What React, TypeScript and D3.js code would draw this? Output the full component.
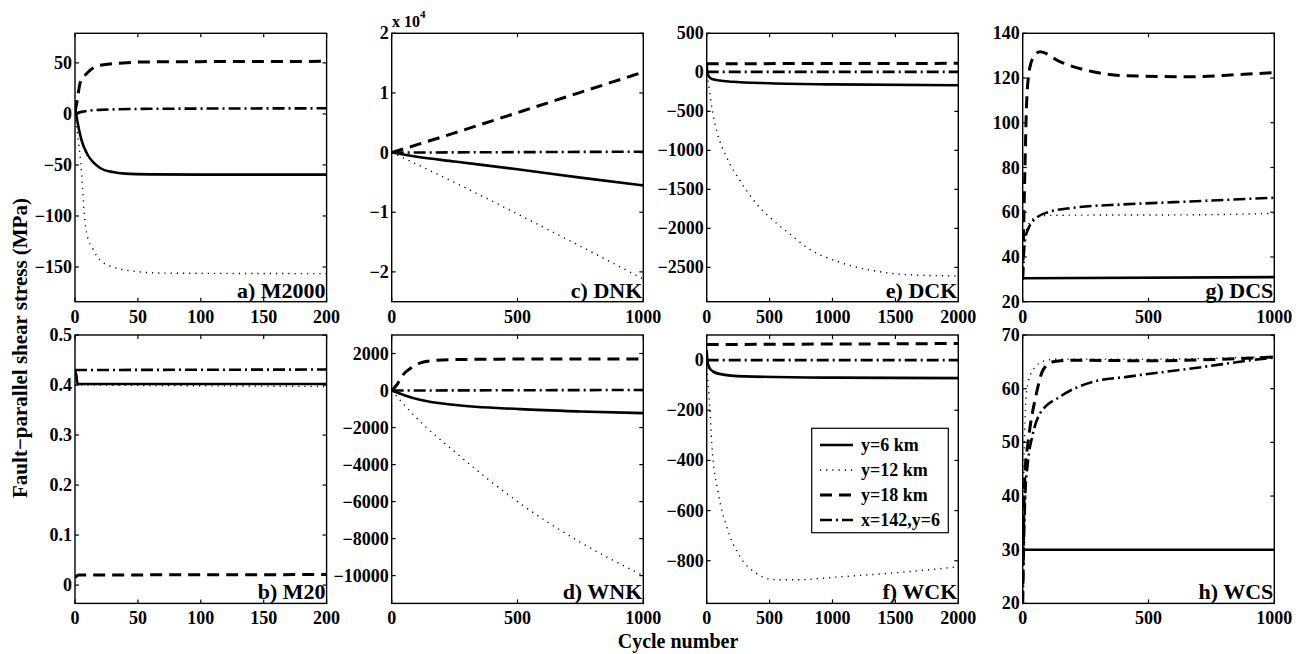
import React from "react";
import * as d3 from "d3";

type Pt = [number, number];

// ---- data (x = cycle number, y = stress) ----
const aSolid: Pt[] = [[0,8],[2,-8],[5,-25],[10,-40],[15,-48],[20,-53],[30,-57],[40,-58.5],[60,-59.2],[100,-59.5],[200,-59.5]];
const aDotted: Pt[] = [[0,0],[1,-10],[2.6,-26],[5.3,-59],[6.6,-85],[9.3,-117],[14.5,-133],[19.8,-143],[30,-150],[46,-154],[70,-156],[200,-156.5]];
const aDashed: Pt[] = [[0,2],[2,15],[4,30],[9.3,39.6],[20,47.7],[38,50],[60,51],[200,51.5]];
const aDashDot: Pt[] = [[0,0],[5,2],[20,4],[60,5],[200,5.5]];

const bSolid: Pt[] = [[0,0.43],[1,0.42],[2,0.402],[200,0.402]];
const bDotted: Pt[] = [[0,0.4],[200,0.397]];
const bDashed: Pt[] = [[0,0.015],[3,0.02],[200,0.021]];
const bDashDot: Pt[] = [[0,0.43],[200,0.431]];

const cSolid: Pt[] = [[0,0],[100,-700],[250,-1500],[500,-2800],[750,-4200],[1000,-5500]];
const cDotted: Pt[] = [[0,0],[250,-5000],[500,-10300],[750,-15700],[1000,-21200]];
const cDashed: Pt[] = [[0,0],[250,3300],[500,6700],[750,10100],[1000,13500]];
const cDashDot: Pt[] = [[0,0],[1000,150]];

const dSolid: Pt[] = [[0,0],[50,-250],[112,-500],[245,-770],[510,-1005],[750,-1130],[1000,-1220]];
const dDotted: Pt[] = [[0,0],[100,-1500],[250,-3300],[500,-6000],[750,-8200],[1000,-10000]];
const dDashed: Pt[] = [[0,0],[20,300],[45,850],[80,1250],[112,1480],[150,1600],[250,1670],[500,1700],[1000,1710]];
const dDashDot: Pt[] = [[0,0],[1000,30]];

const eSolid: Pt[] = [[0,120],[3,30],[8,-20],[20,-60],[50,-90],[100,-105],[200,-120],[500,-140],[1000,-155],[2000,-165]];
const eDotted: Pt[] = [[0,-30],[15,-150],[30,-330],[45,-490],[80,-750],[159,-1090],[265,-1388],[397,-1688],[530,-1900],[662,-2072],[795,-2244],[1060,-2436],[1325,-2542],[1590,-2594],[2000,-2610]];
const eDashed: Pt[] = [[0,110],[2000,115]];
const eDashDot: Pt[] = [[0,5],[2000,5]];

const fSolid: Pt[] = [[0,40],[5,0],[20,-30],[50,-45],[100,-55],[300,-65],[1000,-70],[2000,-72]];
const fDotted: Pt[] = [[0,-30],[26,-200],[40,-332],[92,-531],[159,-664],[265,-784],[397,-851],[530,-875],[700,-876],[1060,-864],[1590,-844],[2000,-824]];
const fDashed: Pt[] = [[0,62],[2000,66]];
const fDashDot: Pt[] = [[0,0],[2000,0]];

const gSolid: Pt[] = [[0,30.5],[1000,31]];
const gDashed: Pt[] = [[0,30],[9,80],[16,110],[29,125],[50,130.5],[69,131.8],[148,127.3],[280,122.8],[413,121],[679,120.6],[850,121.5],[995,122.4]];
const gDashDot: Pt[] = [[0,30],[5,42],[10,48],[20,52],[40,56],[60,58],[100,60],[200,62],[400,63.5],[600,64.5],[800,65.5],[1000,66.5]];
const gDotted: Pt[] = [[0,30],[5,45],[15,52],[40,57],[80,58.5],[200,58.7],[600,58.8],[800,59],[1000,59.5]];

const hSolid: Pt[] = [[0,30],[1000,30]];
const hDotted: Pt[] = [[0,20],[3,40],[8,52],[16,59.7],[41,63.5],[95,65.3],[150,65.5],[500,65.5],[1000,66]];
const hDashed: Pt[] = [[0,20],[5,38],[10,45],[21,49.9],[55,59.2],[81,63.5],[121,65],[200,65.3],[500,65.2],[1000,65.9]];
const hDashDot: Pt[] = [[0,20],[10,40],[20,46],[40,51.5],[69,55.4],[148,58.5],[281,61.3],[413,62.2],[678,63.8],[943,65.5],[1000,65.8]];

// ---- tick labels ----
const xTicks200 = [0, 50, 100, 150, 200];
const xTicks1000 = [0, 500, 1000];
const xTicks2000 = [0, 500, 1000, 1500, 2000];
const yTicksA = [-150, -100, -50, 0, 50];
const yTicksB = [0, 0.1, 0.2, 0.3, 0.4, 0.5];
const yTicksC = [-20000, -10000, 0, 10000, 20000];
const yTicksD = [-10000, -8000, -6000, -4000, -2000, 0, 2000];
const yTicksE = [-2500, -2000, -1500, -1000, -500, 0, 500];
const yTicksF = [-800, -600, -400, -200, 0];
const yTicksG = [20, 40, 60, 80, 100, 120, 140];
const yTicksH = [20, 30, 40, 50, 60, 70];

const legendLabels = ["y=6 km", "y=12 km", "y=18 km", "x=142,y=6"];

const styles = [
  { w: 2.6, dash: "" },
  { w: 1.4, dash: "1.2,5" },
  { w: 3, dash: "12,7" },
  { w: 2.6, dash: "12,4,2,4" },
];

const FONT = "'Liberation Serif', 'Times New Roman', serif";
const TICK_FS = 18;

const fmt = (v: number) => (v < 0 ? "\u2212" : "") + String(Math.abs(v));

interface Panel {
  label: string;
  col: number;
  row: number;
  xDom: [number, number];
  yDom: [number, number];
  xTicks: number[];
  yTicks: number[];
  yFmt?: (v: number) => string;
  series: Pt[][]; // solid, dotted, dashed, dashdot
}

const panels: Panel[] = [
  { label: "a) M2000", col: 0, row: 0, xDom: [0, 200], yDom: [-184, 79], xTicks: xTicks200, yTicks: yTicksA, series: [aSolid, aDotted, aDashed, aDashDot] },
  { label: "b) M20", col: 0, row: 1, xDom: [0, 200], yDom: [-0.0366, 0.5], xTicks: xTicks200, yTicks: yTicksB, series: [bSolid, bDotted, bDashed, bDashDot] },
  { label: "c) DNK", col: 1, row: 0, xDom: [0, 1000], yDom: [-25000, 20000], xTicks: xTicks1000, yTicks: yTicksC, yFmt: (v) => fmt(v / 10000), series: [cSolid, cDotted, cDashed, cDashDot] },
  { label: "d) WNK", col: 1, row: 1, xDom: [0, 1000], yDom: [-11500, 3000], xTicks: xTicks1000, yTicks: yTicksD, series: [dSolid, dDotted, dDashed, dDashDot] },
  { label: "e) DCK", col: 2, row: 0, xDom: [0, 2000], yDom: [-2940, 500], xTicks: xTicks2000, yTicks: yTicksE, series: [eSolid, eDotted, eDashed, eDashDot] },
  { label: "f) WCK", col: 2, row: 1, xDom: [0, 2000], yDom: [-970, 100], xTicks: xTicks2000, yTicks: yTicksF, series: [fSolid, fDotted, fDashed, fDashDot] },
  { label: "g) DCS", col: 3, row: 0, xDom: [0, 1000], yDom: [20, 140], xTicks: xTicks1000, yTicks: yTicksG, series: [gSolid, gDotted, gDashed, gDashDot] },
  { label: "h) WCS", col: 3, row: 1, xDom: [0, 1000], yDom: [20, 70], xTicks: xTicks1000, yTicks: yTicksH, series: [hSolid, hDotted, hDashed, hDashDot] },
];

const colLeft = [75, 391.7, 706.7, 1022.7];
const rowTop = [33.3, 335];
const PW = 251.6;
const PH = 268.4;
const TL = 4;

function PanelView({ p, idx }: { p: Panel; idx: number }) {
  const x0 = colLeft[p.col];
  const y0 = rowTop[p.row];
  const xs = d3.scaleLinear().domain(p.xDom).range([x0, x0 + PW]);
  const ys = d3.scaleLinear().domain(p.yDom).range([y0 + PH, y0]);
  const line = d3
    .line<Pt>()
    .x((d) => xs(d[0]))
    .y((d) => ys(d[1]))
    .curve(d3.curveMonotoneX);
  const yf = p.yFmt || fmt;
  const clipId = `clip${idx}`;
  return (
    <g>
      <defs>
        <clipPath id={clipId}>
          <rect x={x0} y={y0} width={PW} height={PH} />
        </clipPath>
      </defs>
      <g clipPath={`url(#${clipId})`}>
        {p.series.map((s, i) => (
          <path
            key={i}
            d={line(s) || ""}
            fill="none"
            stroke="#000"
            strokeWidth={styles[i].w}
            strokeDasharray={styles[i].dash || undefined}
          />
        ))}
      </g>
      {p.xTicks.map((t) => (
        <g key={"x" + t}>
          <line x1={xs(t)} x2={xs(t)} y1={y0 + PH} y2={y0 + PH - TL} stroke="#000" strokeWidth={1.2} />
          <line x1={xs(t)} x2={xs(t)} y1={y0} y2={y0 + TL} stroke="#000" strokeWidth={1.2} />
          <text x={xs(t)} y={y0 + PH + 21} textAnchor="middle" fontFamily={FONT} fontWeight="bold" fontSize={TICK_FS}>
            {fmt(t)}
          </text>
        </g>
      ))}
      {p.yTicks.map((t) => (
        <g key={"y" + t}>
          <line x1={x0} x2={x0 + TL} y1={ys(t)} y2={ys(t)} stroke="#000" strokeWidth={1.2} />
          <line x1={x0 + PW} x2={x0 + PW - TL} y1={ys(t)} y2={ys(t)} stroke="#000" strokeWidth={1.2} />
          <text x={x0 - 3} y={ys(t) + 6} textAnchor="end" fontFamily={FONT} fontWeight="bold" fontSize={TICK_FS}>
            {yf(t)}
          </text>
        </g>
      ))}
      <rect x={x0} y={y0} width={PW} height={PH} fill="none" stroke="#000" strokeWidth={1.4} />
      <text x={x0 + PW - 1} y={y0 + PH - 4} textAnchor="end" fontFamily={FONT} fontWeight="bold" fontSize={22}>
        {p.label}
      </text>
    </g>
  );
}

function Legend() {
  const bx = 811.7, by = 428.3, bw = 136.6, bh = 104.4;
  const rows = [445, 470, 495, 520];
  return (
    <g>
      <rect x={bx} y={by} width={bw} height={bh} fill="#fff" stroke="#000" strokeWidth={1.2} />
      {legendLabels.map((lab, i) => (
        <g key={lab}>
          <line x1={820} x2={853} y1={rows[i]} y2={rows[i]} stroke="#000" strokeWidth={styles[i].w} strokeDasharray={styles[i].dash || undefined} />
          <text x={861} y={rows[i] + 6} fontFamily={FONT} fontWeight="bold" fontSize={18}>
            {lab}
          </text>
        </g>
      ))}
    </g>
  );
}

export default function App() {
  return (
    <svg width={1302} height={654} style={{ position: "absolute", left: 0, top: 0, background: "#fff" }}>
      <rect x={0} y={0} width={1302} height={654} fill="#fff" />
      {panels.map((p, i) => (
        <PanelView key={p.label} p={p} idx={i} />
      ))}
      <Legend />
      <text x={392} y={27} fontFamily={FONT} fontWeight="bold" fontSize={16}>
        x 10
        <tspan dy={-9} fontSize={11}>4</tspan>
      </text>
      <text
        transform="translate(27,348) rotate(-90)"
        textAnchor="middle"
        fontFamily={FONT}
        fontWeight="bold"
        fontSize={21}
      >
        Fault−parallel shear stress (MPa)
      </text>
      <text x={678} y={648} textAnchor="middle" fontFamily={FONT} fontWeight="bold" fontSize={20}>
        Cycle number
      </text>
    </svg>
  );
}
